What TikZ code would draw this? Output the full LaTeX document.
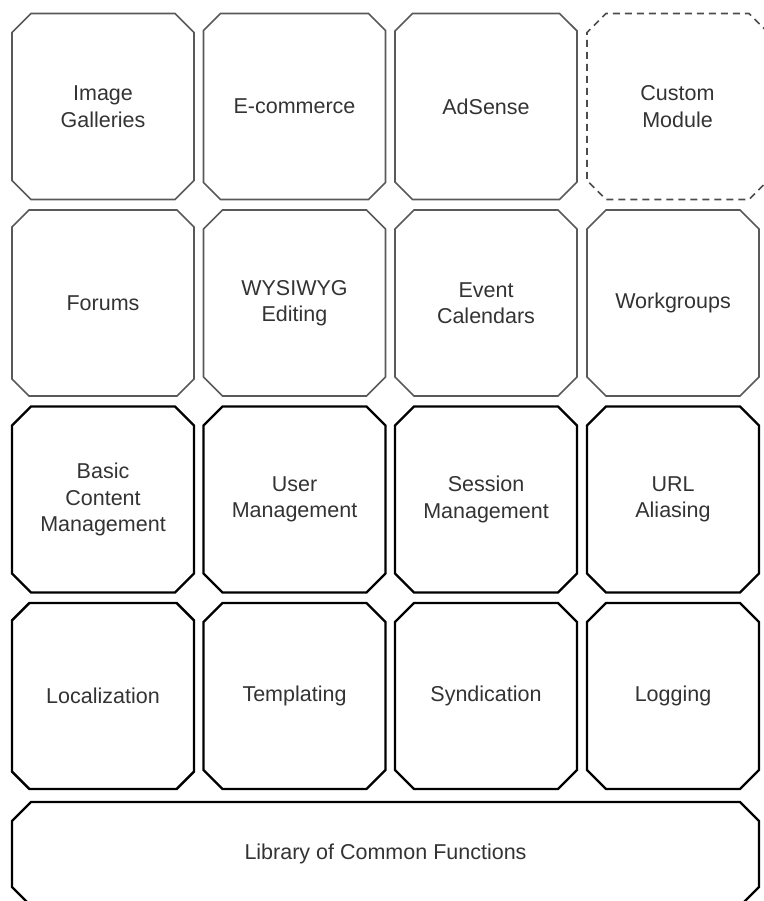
\documentclass[tikz,border=0pt]{standalone}
\usepackage{fontspec}
\setmainfont{Liberation Sans}
\usetikzlibrary{shapes.misc}

\tikzset{
  module/.style={chamfered rectangle, chamfered rectangle xsep=9.5pt, chamfered rectangle ysep=9.5pt,
    inner sep=0pt, outer sep=0pt, minimum width=182pt, minimum height=186pt,
    align=center, text=black!80, font=\fontsize{21.5}{26.5}\selectfont},
  addon/.style={module, draw=black!65, line width=1.6pt},
  custom/.style={module, draw=black!70, line width=1.6pt, dash pattern=on 7pt off 5pt},
  core/.style={module, draw=black, line width=2.4pt},
}

\begin{document}
\begin{tikzpicture}[x=1pt, y=-1pt]
        \useasboundingbox (0,0) rectangle (763,901);
        % contributed modules
        \node[addon] (gallery) at (103, 106.5) {Image\\Galleries};
        \node[addon] (shop) at (294.5, 106.5) {E-commerce};
        \node[addon] (adsense) at (486, 106.5) {AdSense};
        \node[custom, minimum width=181pt] (custom) at (677.5, 106.5) {Custom\\Module};
        \node[addon] (forums) at (103, 303) {Forums};
        \node[addon] (editing) at (294.5, 303) {WYSIWYG\\Editing};
        \node[addon] (events) at (486, 303) {Event\\Calendars};
        \node[addon, minimum width=172pt] (groups) at (673, 303) {Workgroups};
        % core modules
        \node[core] (content) at (103, 499.5) {Basic\\Content\\Management};
        \node[core] (users) at (294.5, 499.5) {User\\Management};
        \node[core] (sessions) at (486, 499.5) {Session\\Management};
        \node[core, minimum width=172pt] (aliasing) at (673, 499.5) {URL\\Aliasing};
        \node[core] (locale) at (103, 696) {Localization};
        \node[core] (themes) at (294.5, 696) {Templating};
        \node[core] (feeds) at (486, 696) {Syndication};
        \node[core, minimum width=172pt] (logging) at (673, 696) {Logging};
        \node[core, minimum width=747pt, minimum height=104pt] (library) at (385.5, 854) {Library of Common Functions};
    \end{tikzpicture}
\end{document}
